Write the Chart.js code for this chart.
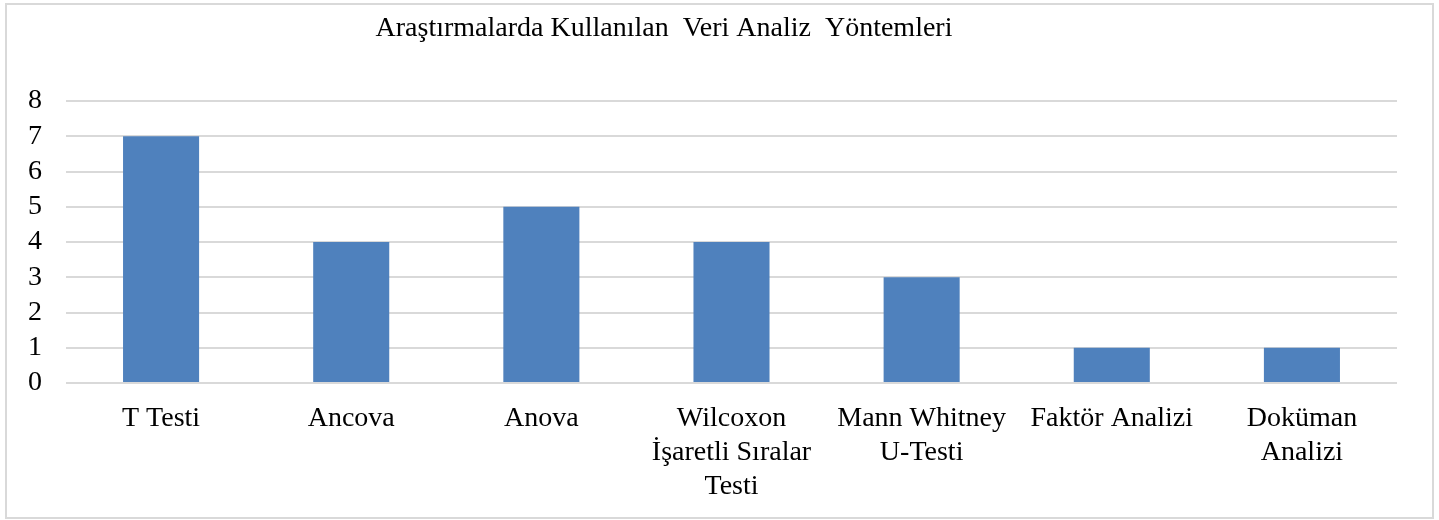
<!DOCTYPE html>
<html><head><meta charset="utf-8">
<script src="https://cdn.jsdelivr.net/npm/chart.js@4"></script>
<style>
html,body{margin:0;padding:0;background:#fff;}
#wrap{position:absolute;left:0;top:0;width:1439px;height:520px;}
#frame{position:absolute;left:5px;top:3px;width:1425px;height:512px;border:2px solid #d9d9d9;pointer-events:none;}
</style></head>
<body>
<div id="wrap"><canvas id="c" width="1439" height="520"></canvas><div id="frame"></div></div>
<script>
const chartTitle = "Araştırmalarda Kullanılan  Veri Analiz  Yöntemleri";
const categories = [["T Testi"],["Ancova"],["Anova"],["Wilcoxon","İşaretli Sıralar","Testi"],["Mann Whitney","U-Testi"],["Faktör Analizi"],["Doküman","Analizi"]];
const values = [7,4,5,4,3,1,1];
const yTicks = [0,1,2,3,4,5,6,7,8];

const FONT = "'Liberation Serif','Times New Roman',serif";
const titlePlugin = {
  id:'customTitle',
  afterDraw(chart){
    const ctx = chart.ctx;
    ctx.save();
    ctx.font = "28px " + FONT;
    ctx.fillStyle = "#000";
    ctx.textAlign = "center";
    ctx.textBaseline = "middle";
    ctx.fillText(chartTitle, 664, 29);
    ctx.restore();
  }
};

new Chart(document.getElementById('c'), {
  type:'bar',
  data:{labels:categories, datasets:[{data:values, backgroundColor:'#4F81BD', borderWidth:0, barPercentage:0.4, categoryPercentage:1}]},
  options:{
    responsive:false, animation:false, devicePixelRatio:1,
    layout:{padding:{left:0,top:101,right:42,bottom:0}},
    plugins:{legend:{display:false}, title:{display:false}, tooltip:{enabled:false}},
    scales:{
      x:{
        grid:{display:false, drawTicks:false},
        border:{display:false},
        ticks:{color:'#000', font:{family:FONT, size:28, lineHeight:1.21}, padding:19, autoSkip:false, maxRotation:0, minRotation:0},
        afterFit(s){ s.height = 137; }
      },
      y:{
        min:0, max:8,
        afterBuildTicks(s){ s.ticks = yTicks.map(v=>({value:v})); },
        grid:{color:'#d9d9d9', lineWidth:2, drawTicks:false},
        border:{display:false},
        ticks:{color:'#000', font:{family:FONT, size:28}, padding:24, autoSkip:false},
        afterFit(s){ s.width = 66; }
      }
    }
  },
  plugins:[titlePlugin]
});
</script>
</body></html>
